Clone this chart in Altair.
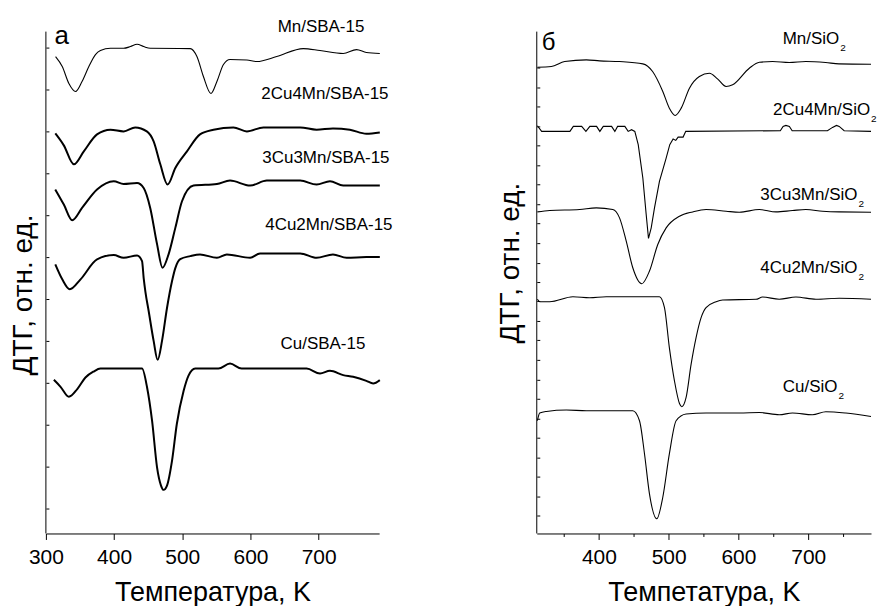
import altair as alt
import pandas as pd

FONT = "Liberation Sans"

# ---------------- Panel а : x/SBA-15 (temperature K, DTG in relative units) ----------------
mn_sba_T = [314.2, 324, 333.7, 343.5, 353, 363, 372.7, 380, 394.7, 414, 424, 433.7, 443.4, 453,
            511.7, 521.5, 531, 542, 550.8, 560.4, 570, 594.7, 609.3, 638.5, 677.5, 702, 736, 755.6, 770, 789.7]
mn_sba_v = [478, 468, 451, 443, 453, 468, 480, 484, 486.3, 486.3, 488, 490.3, 488, 486.3,
            486, 478, 458, 441, 453, 470, 475, 474.5, 473, 478, 486, 484, 481, 485, 482, 481]

c24_sba_T = [313.8, 326.3, 341, 355.6, 375, 394.7, 414, 431, 448, 458, 467.8, 478.5, 489.8, 506.9,
             526, 545.8, 575, 594.7, 619, 673, 697, 721, 745.8, 770, 789.7]
c24_sba_v = [401, 389, 370, 383, 400, 404.7, 403, 407, 403, 393, 370, 349.7, 366.3, 383,
             400, 404.7, 407, 403, 407, 407, 404.7, 406, 404.7, 400.7, 402]

c33_sba_T = [313.8, 326.3, 338.6, 353, 375, 399.5, 414, 433.7, 443.4, 453, 463, 471, 480, 489.8,
             499.6, 516.5, 550.8, 570, 599.5, 624, 673, 697, 716.6, 736, 789.7]
c33_sba_v = [344.7, 329.7, 314, 326.3, 344.7, 353, 350.3, 351.3, 346.3, 326.3, 290, 266.3, 280, 306.3,
             333, 348.7, 350.3, 353.7, 348.7, 353.7, 353.7, 349.7, 353, 348.7, 348.7]

c42_sba_T = [313.8, 324, 335, 350.8, 375, 399.5, 414, 433.7, 441, 443.4, 446, 450.7, 458, 463.9,
             470.3, 477.6, 485, 489.8, 497, 511.7, 526, 550.8, 565.4, 599.5, 614, 673, 697, 721, 741, 770, 789.7]
c42_sba_v = [269.7, 254.7, 244.7, 254.7, 274.7, 279, 276.3, 278.7, 273, 256, 242, 223, 193, 174,
             193, 226, 253, 266, 275, 278, 279.7, 276.3, 279.7, 276.3, 280.7, 280.7, 276.3, 279.7, 276.3, 277, 277]

cu_sba_T = [311.7, 321.5, 333.7, 346, 358, 370, 380, 441, 448.4, 455.7, 463, 468.8, 472.6, 477.6,
            485, 492, 502, 509, 519, 553, 570, 587, 682.4, 702, 716.6, 736, 750.6, 770, 779.9, 789.7]
cu_sba_v = [154, 147, 137, 144.7, 156.3, 162.3, 165.3, 165.3, 146.3, 113, 66.3, 48, 43.7, 48,
            73, 109.7, 143, 158, 165.3, 165.3, 170.3, 165.3, 165.3, 160.3, 163, 158.7, 157, 153, 150.3, 153.7]

left_labels = ["Mn/SBA-15", "2Cu4Mn/SBA-15", "3Cu3Mn/SBA-15", "4Cu2Mn/SBA-15", "Cu/SBA-15"]
left_label_T = [703.4, 709.2, 710.7, 715, 706.3]
left_label_v = [508, 440, 376, 309, 190]

# ---------------- Panel б : x/SiO2 ----------------
mn_si_T = [311.9, 331.9, 351, 382, 401, 429.6, 463, 477, 491.6, 501, 509.3, 518, 529.8, 544,
           558.4, 570, 582.3, 591.7, 615.6, 630, 649, 672.8, 696.7, 725, 744, 790]
mn_si_v = [467.3, 468, 473, 474.7, 473.7, 473, 470.7, 463, 443, 426.3, 419, 426.3, 446.3, 458,
           461.3, 455.7, 448, 449.7, 466.3, 472.3, 473, 472, 473, 472, 470.7, 470.3]

c24_si_T = [311.9, 318, 358.5, 363.4, 375.3, 381.4, 387.1, 396.7, 401.4, 406.3, 418.2, 422.9, 426.8,
            437.2, 442, 446.8, 451.5, 456.4, 463, 467.8, 471.1, 475, 479.7, 486.8, 496.4, 501.6,
            506.4, 510.2, 513.6, 520.7, 524.5, 660, 664, 668, 673, 677, 727.6, 734.8, 740.5,
            744.4, 751.5, 790]
c24_si_v = [408.7, 403, 403, 408, 408, 403, 408, 408, 403, 408, 408, 403, 408,
            408, 403, 404.7, 403, 389.7, 356.3, 319.7, 295.7, 306.3, 326.3, 353, 376.3, 389.7,
            395.3, 394, 397.3, 397.3, 403, 403.7, 408, 409, 408, 403.7, 403.7, 407, 409,
            408, 403.7, 403]

c33_si_T = [311.9, 329.5, 372.4, 396.3, 420, 429.6, 439.2, 448.6, 461.5, 472.5, 484.4, 496.4,
            515.5, 534.5, 553.6, 582.3, 601.3, 630, 653.8, 677.5, 696.7, 720.5, 744.4, 790]
c33_si_v = [322.3, 323.7, 324.7, 326.3, 324.7, 316.3, 293, 266.3, 250.3, 263, 289.7, 306.3,
            318, 322.3, 324.7, 323, 322, 324.7, 322.3, 323.7, 324.7, 323, 322.3, 322]

c42_si_T = [311.9, 315.2, 329.5, 362.8, 386.7, 410.6, 458.2, 486.8, 494, 501, 508.3, 515.5,
            518.8, 525, 532.2, 539.3, 546.5, 553.6, 568, 577.4, 625.2, 634.6, 658.5, 682.4,
            711, 744.4, 790]
c42_si_v = [234.7, 232.3, 232.3, 237.3, 236.3, 237.3, 237.3, 237.3, 226.3, 186.3, 153, 130.3,
            127, 136.3, 169.7, 196.3, 216.3, 226.3, 232.3, 234, 234.7, 237, 234.7, 237,
            234.7, 235.7, 234.7]

cu_si_T = [311.9, 315.2, 324.8, 353.4, 382, 410.6, 448.6, 458.2, 465.4, 472.5, 483, 491.6,
           501, 510.7, 525, 553.6, 601.3, 630, 658.5, 677.5, 706, 725.3, 753.9, 790]
cu_si_v = [113, 120.7, 122.3, 123.7, 123, 123, 123, 113, 79.7, 39.7, 14.7, 36.3,
           79.7, 113, 119.7, 120.7, 120.7, 121.3, 119, 120.7, 119, 122, 120.7, 117.3]

right_labels = ["Mn/SiO", "2Cu4Mn/SiO", "3Cu3Mn/SiO", "4Cu2Mn/SiO", "Cu/SiO"]
right_sub = ["2", "2", "2", "2", "2"]
right_label_T = [744.4, 788.7, 770.5, 770.5, 741.9]
right_label_v = [495.5, 424, 339.7, 266.3, 146.7]

left_y_ticks = [25, 67, 109, 151, 193, 235, 277, 319, 361, 403, 445, 487]
right_y_ticks = [18 + 19.5 * k for k in range(24)]

letters_left = ["а"]
letters_left_T = [312.7]
letters_left_v = [491]
letters_right = ["б"]
letters_right_T = [318]
letters_right_v = [485]


def frame(names, Ts, vs):
    rows = []
    for n, T, v in zip(names, Ts, vs):
        for t, y in zip(T, v):
            rows.append({"series": n, "T": t, "v": y})
    return pd.DataFrame(rows)


def panel(xdom, ydom, xvals, xtitle, yticks, ytitle, titleX, titleY, minor):
    common = dict(values=xvals, title=xtitle, grid=False, labelFlush=False, labelOverlap=False,
                  labelAlign="center", labelBaseline="top",
                  labelPadding=7, titlePadding=12, labelFontSize=21, titleFontSize=27)
    if minor:
        xaxis = alt.Axis(tickSize={"condition": {"test": "datum.value % 100 === 0", "value": 6}, "value": 3},
                         labelExpr="datum.value % 100 === 0 ? datum.label : ''", **common)
    else:
        xaxis = alt.Axis(tickSize=6, **common)
    x = alt.X("T:Q", scale=alt.Scale(domain=xdom, nice=False, zero=False), axis=xaxis)
    y = alt.Y("v:Q", scale=alt.Scale(domain=ydom, nice=False, zero=False),
              axis=alt.Axis(values=yticks, labels=False, domain=False, tickSize=3, offset=-3,
                            grid=False, title=ytitle, titleFontSize=28, titleAngle=270,
                            titleBaseline="bottom", titleX=titleX, titleY=titleY))
    return x, y


# ---------- left ----------
xl, yl = panel([300, 788.7], [0, 503], [300, 400, 500, 600, 700], "Температура, K",
               left_y_ticks, "ДТГ, отн. ед.", -11, 263.5, False)

df_l_thin = frame(["Mn/SBA-15"], [mn_sba_T], [mn_sba_v])
df_l_thick = frame(left_labels[1:], [c24_sba_T, c33_sba_T, c42_sba_T, cu_sba_T],
                   [c24_sba_v, c33_sba_v, c42_sba_v, cu_sba_v])
df_l_lab = pd.DataFrame({"label": left_labels, "T": left_label_T, "v": left_label_v})
df_l_axis = pd.DataFrame({"T": [300, 300], "v": [0, 503]})
df_l_let = pd.DataFrame({"label": letters_left, "T": letters_left_T, "v": letters_left_v})

left = alt.layer(
    alt.Chart(df_l_axis).mark_line(color="black", strokeWidth=1).encode(x=xl, y=yl),
    alt.Chart(df_l_thin).mark_line(color="black", strokeWidth=1.1, interpolate="monotone").encode(
        x=xl, y=yl, detail="series:N"),
    alt.Chart(df_l_thick).mark_line(color="black", strokeWidth=2, interpolate="monotone").encode(
        x=xl, y=yl, detail="series:N"),
    alt.Chart(df_l_lab).mark_text(font=FONT, fontSize=17, color="black").encode(x=xl, y=yl, text="label:N"),
    alt.Chart(df_l_let).mark_text(font=FONT, fontSize=26, color="black", align="left",
                                  baseline="alphabetic").encode(x=xl, y=yl, text="label:N"),
).properties(width=334, height=503)

# ---------- right ----------
xr, yr = panel([311, 790], [0, 503], [350, 400, 450, 500, 550, 600, 650, 700, 750], "Темпетатура, K",
               right_y_ticks, "ДТГ, отн. ед.", -15, 231.5, True)

df_r = frame(["Mn/SiO2", "3Cu3Mn/SiO2", "4Cu2Mn/SiO2", "Cu/SiO2"],
             [mn_si_T, c33_si_T, c42_si_T, cu_si_T], [mn_si_v, c33_si_v, c42_si_v, cu_si_v])
df_r_lin = frame(["2Cu4Mn/SiO2"], [c24_si_T], [c24_si_v])
df_r_lab = pd.DataFrame({"label": right_labels, "sub": right_sub, "T": right_label_T, "v": right_label_v})
df_r_axis = pd.DataFrame({"T": [311, 311], "v": [0, 503]})
df_r_let = pd.DataFrame({"label": letters_right, "T": letters_right_T, "v": letters_right_v})

right = alt.layer(
    alt.Chart(df_r_axis).mark_line(color="black", strokeWidth=1).encode(x=xr, y=yr),
    alt.Chart(df_r).mark_line(color="black", strokeWidth=1.1, interpolate="monotone").encode(
        x=xr, y=yr, detail="series:N"),
    alt.Chart(df_r_lin).mark_line(color="black", strokeWidth=1.1).encode(x=xr, y=yr, detail="series:N"),
    alt.Chart(df_r_lab).mark_text(font=FONT, fontSize=17, color="black", align="right").encode(
        x=xr, y=yr, text="label:N"),
    alt.Chart(df_r_lab).mark_text(font=FONT, fontSize=10, color="black", align="left", dx=1, dy=9).encode(
        x=xr, y=yr, text="sub:N"),
    alt.Chart(df_r_let).mark_text(font=FONT, fontSize=24, color="black", align="left",
                                  baseline="alphabetic").encode(x=xr, y=yr, text="label:N"),
).properties(width=335, height=503)

chart = alt.hconcat(left, right, spacing=158, bounds="flush").properties(
    padding={"left": 10, "top": 16, "right": 0, "bottom": 0}
).configure_view(stroke=None).configure_axis(
    labelFont=FONT, titleFont=FONT, labelColor="black", titleColor="black",
    tickColor="black", domainColor="black", titleFontWeight="normal", tickWidth=1, domainWidth=1
)

chart.save("out.html", embed_options={"renderer": "svg", "actions": False})
